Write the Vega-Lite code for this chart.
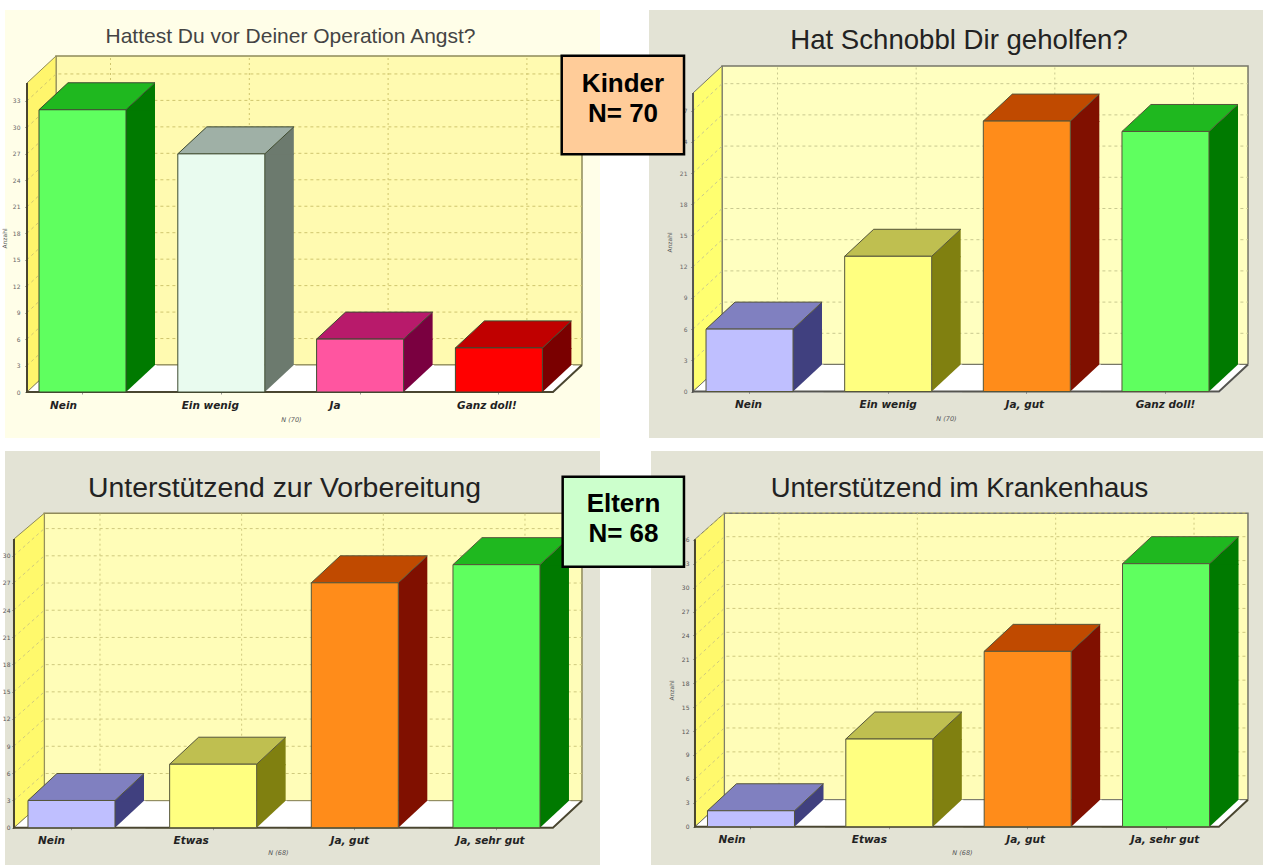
{"$schema":"https://vega.github.io/schema/vega-lite/v6.json","padding":{"left":1,"top":10,"right":0,"bottom":0},"background":"#ffffff","spacing":13,"datasets":{
"a":[{"answer":"Nein","value":32},{"answer":"Ein wenig","value":27},{"answer":"Ja","value":6},{"answer":"Ganz doll!","value":5}],
"b":[{"answer":"Nein","value":6},{"answer":"Ein wenig","value":13},{"answer":"Ja, gut","value":26},{"answer":"Ganz doll!","value":25}],
"c":[{"answer":"Nein","value":3},{"answer":"Etwas","value":7},{"answer":"Ja, gut","value":27},{"answer":"Ja, sehr gut","value":29}],
"d":[{"answer":"Nein","value":2},{"answer":"Etwas","value":11},{"answer":"Ja, gut","value":22},{"answer":"Ja, sehr gut","value":33}]
},
"vconcat":[
{"hconcat":[
{"width":595,"height":428,"view":{"fill":"#FFFEE8","stroke":null},
"title":{"text":"Hattest Du vor Deiner Operation Angst?","font":"Liberation Sans","fontSize":21,"fontWeight":"normal","color":"#444444","anchor":"middle","frame":"group","offset":-37,"dx":-12},
"encoding":{
"x":{"field":"answer","type":"nominal","sort":null,"scale":{"type":"band","domain":["Nein","Ein wenig","Ja","Ganz doll!"],"range":[8.1,563.3],"paddingInner":0,"paddingOuter":0},"axis":{"title":"N (70)","titleFontSize":6.5,"titleFontStyle":"italic","titleFont":"DejaVu Sans","titleFontWeight":"normal","titleColor":"#555555","titleX":286,"titleY":24,"labelAngle":0,"labelFont":"DejaVu Sans","labelFontWeight":"bold","labelFontStyle":"italic","labelFontSize":10.5,"labelColor":"#222222","labelPadding":6,"tickSize":2,"tickColor":"#999999","domain":false,"grid":false,"offset":-46,"labelOffset":{"expr":"{'Nein':-19,'Ein wenig':-11,'Ja':-25,'Ganz doll!':-12}[datum.value]"}}},
"y":{"field":"value","type":"quantitative","scale":{"domain":[0,35],"nice":false,"zero":true,"range":[382,73.3]},"axis":{"title":"Anzahl","titleFontSize":6,"titleFont":"DejaVu Sans","titleFontWeight":"normal","titleColor":"#555555","titleX":-20,"titleY":228,"values":[0,3,6,9,12,15,18,21,24,27,30,33],"labelFont":"DejaVu Sans","labelFontSize":6,"labelColor":"#666666","labelPadding":5,"tickSize":2,"tickColor":"#666666","domain":false,"grid":false,"offset":-22}}
},
"resolve":{"scale":{"color":"independent"}},
"layer":[
{"data":{"values":[{"answer":"Nein","value":0}]},"mark":{"type":"point","size":4,"opacity":1,"filled":true,"fill":"#FFFAB0","stroke":"#8F8A5A","strokeWidth":1.5,"shape":"M-26.5,-336 L499.5,-336 L499.5,-27 L-26.5,-27 Z"}},
{"data":{"values":[{"answer":"Nein","value":0}]},"mark":{"type":"point","size":4,"opacity":1,"filled":true,"fill":"#FFF56C","stroke":"#8F8A5A","strokeWidth":1,"shape":"M-55.5,0 L-55.5,-309 L-26.5,-336 L-26.5,-27 Z"}},
{"data":{"values":[{"answer":"Nein","value":0}]},"mark":{"type":"point","size":4,"opacity":1,"filled":true,"fill":"#FFFFFF","stroke":"#8F8A5A","strokeWidth":1,"shape":"M-55.5,0 L470.5,0 L499.5,-27 L-26.5,-27 Z"}},
{"data":{"values":[{"answer":"Nein","value":3},{"answer":"Nein","value":6},{"answer":"Nein","value":9},{"answer":"Nein","value":12},{"answer":"Nein","value":15},{"answer":"Nein","value":18},{"answer":"Nein","value":21},{"answer":"Nein","value":24},{"answer":"Nein","value":27},{"answer":"Nein","value":30},{"answer":"Nein","value":33}]},"mark":{"type":"point","size":4,"opacity":1,"filled":false,"stroke":"#CFC56E","strokeWidth":1,"strokeDash":[3,3],"shape":"M-55.5,0 L-26.5,-27 L499.5,-27"}},
{"data":{"name":"a"},"encoding":{"y":{"datum":0,"type":"quantitative"}},"mark":{"type":"point","size":4,"opacity":1,"filled":false,"stroke":"#CFC56E","strokeWidth":1,"strokeDash":[2,3],"shape":"M28,-27 L28,-336"}},
{"data":{"name":"a"},"mark":{"type":"bar","width":29,"xOffset":58,"opacity":1},"encoding":{"color":{"field":"answer","type":"nominal","legend":null,"scale":{"domain":["Nein","Ein wenig","Ja","Ganz doll!"],"range":["#007A00","#6C7A6E","#7A0040","#7A0000"]}}}},
{"data":{"name":"a"},"mark":{"type":"point","size":4,"opacity":1,"filled":true,"strokeWidth":0,"shape":"M43.5,1 L43.5,0 L72.5,-27 L72.5,1 Z"},"encoding":{"color":{"field":"answer","type":"nominal","legend":null,"scale":{"domain":["Nein","Ein wenig","Ja","Ganz doll!"],"range":["#007A00","#6C7A6E","#7A0040","#7A0000"]}}}},
{"data":{"name":"a"},"encoding":{"y":{"datum":0,"type":"quantitative"}},"mark":{"type":"point","size":4,"opacity":1,"filled":true,"fill":"#FFFFFF","strokeWidth":0,"shape":"M43.5,1 L74,1 L74,-27 L72.5,-27 L43.5,0 Z"}},
{"data":{"values":[{"answer":"Nein","value":0}]},"mark":{"type":"point","size":4,"opacity":1,"filled":true,"fill":"#FFFEE8","strokeWidth":0,"shape":"M470.5,2 L510,2 L510,-27 L499.5,-27 Z"}},
{"data":{"values":[{"answer":"Nein","value":0}]},"mark":{"type":"point","size":4,"opacity":1,"filled":false,"stroke":"#4A4630","strokeWidth":2,"shape":"M-55.5,-309 L-55.5,0 L470.5,0 L499.5,-27"}},
{"data":{"name":"a"},"mark":{"type":"point","size":4,"opacity":1,"filled":true,"stroke":"#3D4A30","strokeWidth":1,"shape":"M-43.5,0 L43.5,0 L72.5,-27 L-14.5,-27 Z"},"encoding":{"color":{"field":"answer","type":"nominal","legend":null,"scale":{"domain":["Nein","Ein wenig","Ja","Ganz doll!"],"range":["#1FB81F","#9FB0A6","#B81A6B","#C00000"]}}}},
{"data":{"name":"a"},"mark":{"type":"bar","width":87,"opacity":1,"stroke":"#3D4A30","strokeWidth":1},"encoding":{"color":{"field":"answer","type":"nominal","legend":null,"scale":{"domain":["Nein","Ein wenig","Ja","Ganz doll!"],"range":["#5FFF5F","#E9FBEF","#FF55A0","#FF0000"]}}}}
]},
{"width":614,"height":428,"view":{"fill":"#E3E3D5","stroke":null},
"title":{"text":"Hat Schnobbl Dir geholfen?","font":"Liberation Sans","fontSize":27.6,"fontWeight":"normal","color":"#222222","anchor":"middle","frame":"group","offset":-45,"dx":3},
"encoding":{
"x":{"field":"answer","type":"nominal","sort":null,"scale":{"type":"band","domain":["Nein","Ein wenig","Ja, gut","Ganz doll!"],"range":[31.2,585.8],"paddingInner":0,"paddingOuter":0},"axis":{"title":"N (70)","titleFontSize":6.5,"titleFontStyle":"italic","titleFont":"DejaVu Sans","titleFontWeight":"normal","titleColor":"#555555","titleX":297,"titleY":24,"labelAngle":0,"labelFont":"DejaVu Sans","labelFontWeight":"bold","labelFontStyle":"italic","labelFontSize":10.5,"labelColor":"#222222","labelPadding":6,"tickSize":2,"tickColor":"#999999","domain":false,"grid":false,"offset":-46.5,"labelOffset":{"expr":"{'Nein':-1,'Ein wenig':0,'Ja, gut':-2,'Ganz doll!':0}[datum.value]"}}},
"y":{"field":"value","type":"quantitative","scale":{"domain":[0,28.7],"nice":false,"zero":true,"range":[381.5,83]},"axis":{"title":"Anzahl","titleFontSize":6,"titleFont":"DejaVu Sans","titleFontWeight":"normal","titleColor":"#555555","titleX":-21,"titleY":232,"values":[0,3,6,9,12,15,18,21,24,27],"labelFont":"DejaVu Sans","labelFontSize":6,"labelColor":"#666666","labelPadding":4,"tickSize":2,"tickColor":"#666666","domain":false,"grid":false,"offset":-44}}
},
"resolve":{"scale":{"color":"independent"}},
"layer":[
{"data":{"values":[{"answer":"Nein","value":0}]},"mark":{"type":"point","size":4,"opacity":1,"filled":true,"fill":"#FFFFC0","stroke":"#777768","strokeWidth":1.5,"shape":"M-27.5,-325.5 L498.5,-325.5 L498.5,-27 L-27.5,-27 Z"}},
{"data":{"values":[{"answer":"Nein","value":0}]},"mark":{"type":"point","size":4,"opacity":1,"filled":true,"fill":"#FFFF70","stroke":"#777768","strokeWidth":1,"shape":"M-56.5,0 L-56.5,-298.5 L-27.5,-325.5 L-27.5,-27 Z"}},
{"data":{"values":[{"answer":"Nein","value":0}]},"mark":{"type":"point","size":4,"opacity":1,"filled":true,"fill":"#FFFFFF","stroke":"#777768","strokeWidth":1,"shape":"M-56.5,0 L469.5,0 L498.5,-27 L-27.5,-27 Z"}},
{"data":{"values":[{"answer":"Nein","value":3},{"answer":"Nein","value":6},{"answer":"Nein","value":9},{"answer":"Nein","value":12},{"answer":"Nein","value":15},{"answer":"Nein","value":18},{"answer":"Nein","value":21},{"answer":"Nein","value":24},{"answer":"Nein","value":27}]},"mark":{"type":"point","size":4,"opacity":1,"filled":false,"stroke":"#C9C98F","strokeWidth":1,"strokeDash":[3,3],"shape":"M-56.5,0 L-27.5,-27 L498.5,-27"}},
{"data":{"name":"b"},"encoding":{"y":{"datum":0,"type":"quantitative"}},"mark":{"type":"point","size":4,"opacity":1,"filled":false,"stroke":"#C9C98F","strokeWidth":1,"strokeDash":[2,3],"shape":"M28,-27 L28,-325.5"}},
{"data":{"name":"b"},"mark":{"type":"bar","width":29,"xOffset":58,"opacity":1},"encoding":{"color":{"field":"answer","type":"nominal","legend":null,"scale":{"domain":["Nein","Ein wenig","Ja, gut","Ganz doll!"],"range":["#40407F","#808010","#801000","#007A00"]}}}},
{"data":{"name":"b"},"mark":{"type":"point","size":4,"opacity":1,"filled":true,"strokeWidth":0,"shape":"M43.5,1 L43.5,0 L72.5,-27 L72.5,1 Z"},"encoding":{"color":{"field":"answer","type":"nominal","legend":null,"scale":{"domain":["Nein","Ein wenig","Ja, gut","Ganz doll!"],"range":["#40407F","#808010","#801000","#007A00"]}}}},
{"data":{"name":"b"},"encoding":{"y":{"datum":0,"type":"quantitative"}},"mark":{"type":"point","size":4,"opacity":1,"filled":true,"fill":"#FFFFFF","strokeWidth":0,"shape":"M43.5,1 L74,1 L74,-27 L72.5,-27 L43.5,0 Z"}},
{"data":{"values":[{"answer":"Nein","value":0}]},"mark":{"type":"point","size":4,"opacity":1,"filled":true,"fill":"#E3E3D5","strokeWidth":0,"shape":"M469.5,2 L509,2 L509,-27 L498.5,-27 Z"}},
{"data":{"values":[{"answer":"Nein","value":0}]},"mark":{"type":"point","size":4,"opacity":1,"filled":false,"stroke":"#555550","strokeWidth":2,"shape":"M-56.5,-298.5 L-56.5,0 L469.5,0 L498.5,-27"}},
{"data":{"name":"b"},"mark":{"type":"point","size":4,"opacity":1,"filled":true,"stroke":"#55553A","strokeWidth":1,"shape":"M-43.5,0 L43.5,0 L72.5,-27 L-14.5,-27 Z"},"encoding":{"color":{"field":"answer","type":"nominal","legend":null,"scale":{"domain":["Nein","Ein wenig","Ja, gut","Ganz doll!"],"range":["#8080C0","#BFBF50","#C04A00","#1FB81F"]}}}},
{"data":{"name":"b"},"mark":{"type":"bar","width":87,"opacity":1,"stroke":"#55553A","strokeWidth":1},"encoding":{"color":{"field":"answer","type":"nominal","legend":null,"scale":{"domain":["Nein","Ein wenig","Ja, gut","Ganz doll!"],"range":["#BFBFFF","#FFFF80","#FF8C1A","#5FFF5F"]}}}},
{"data":{"values":[{"answer":"Nein","value":0}]},"mark":{"type":"point","size":4,"opacity":1,"filled":true,"fill":"#FFCC99","stroke":"#000000","strokeWidth":2.5,"shape":"M-187.8,-335.8 L-65.5,-335.8 L-65.5,-237.2 L-187.8,-237.2 Z"}},
{"data":{"values":[{"answer":"Nein","value":0,"box":"Kinder"}]},"mark":{"type":"text","text":["Kinder","N= 70"],"font":"Liberation Sans","fontWeight":"bold","fontSize":26,"lineHeight":29.5,"color":"#000000","align":"center","baseline":"middle","dx":-126.5,"dy":-307.5}}
]}
],"spacing":49,"bounds":"flush"},
{"hconcat":[
{"width":595,"height":414,"view":{"fill":"#E3E3D5","stroke":null},
"title":{"text":"Unterstützend zur Vorbereitung","font":"Liberation Sans","fontSize":28.4,"fontWeight":"normal","color":"#222222","anchor":"middle","frame":"group","offset":-52,"dx":-18},
"encoding":{
"x":{"field":"answer","type":"nominal","sort":null,"scale":{"type":"band","domain":["Nein","Etwas","Ja, gut","Ja, sehr gut"],"range":[-4.35,562.3],"paddingInner":0,"paddingOuter":0},"axis":{"title":"N (68)","titleFontSize":6.5,"titleFontStyle":"italic","titleFont":"DejaVu Sans","titleFontWeight":"normal","titleColor":"#555555","titleX":273,"titleY":22,"labelAngle":0,"labelFont":"DejaVu Sans","labelFontWeight":"bold","labelFontStyle":"italic","labelFontSize":10.5,"labelColor":"#222222","labelPadding":6,"tickSize":2,"tickColor":"#999999","domain":false,"grid":false,"offset":-37.3,"labelOffset":{"expr":"{'Nein':-20,'Etwas':-22,'Ja, gut':-5,'Ja, sehr gut':-6}[datum.value]"}}},
"y":{"field":"value","type":"quantitative","scale":{"domain":[0,31.83],"nice":false,"zero":true,"range":[376.7,88]},"axis":{"title":null,"values":[0,3,6,9,12,15,18,21,24,27,30],"labelFont":"DejaVu Sans","labelFontSize":6,"labelColor":"#555555","labelPadding":2,"tickSize":2,"tickColor":"#666666","domain":false,"grid":false,"offset":-9}}
},
"resolve":{"scale":{"color":"independent"}},
"layer":[
{"data":{"values":[{"answer":"Nein","value":0}]},"mark":{"type":"point","size":4,"opacity":1,"filled":true,"fill":"#FFFDB8","stroke":"#8F8A5A","strokeWidth":1.5,"shape":"M-27.2,-314.4 L510.5,-314.4 L510.5,-27 L-27.2,-27 Z"}},
{"data":{"values":[{"answer":"Nein","value":0}]},"mark":{"type":"point","size":4,"opacity":1,"filled":true,"fill":"#FFF96C","stroke":"#8F8A5A","strokeWidth":1,"shape":"M-57.5,0 L-57.5,-288.7 L-27.2,-314.4 L-27.2,-27 Z"}},
{"data":{"values":[{"answer":"Nein","value":0}]},"mark":{"type":"point","size":4,"opacity":1,"filled":true,"fill":"#FFFFFF","stroke":"#8F8A5A","strokeWidth":1,"shape":"M-57.5,0 L481.5,0 L510.5,-27 L-27.2,-27 Z"}},
{"data":{"values":[{"answer":"Nein","value":3},{"answer":"Nein","value":6},{"answer":"Nein","value":9},{"answer":"Nein","value":12},{"answer":"Nein","value":15},{"answer":"Nein","value":18},{"answer":"Nein","value":21},{"answer":"Nein","value":24},{"answer":"Nein","value":27},{"answer":"Nein","value":30}]},"mark":{"type":"point","size":4,"opacity":1,"filled":false,"stroke":"#CFC97E","strokeWidth":1,"strokeDash":[3,3],"shape":"M-57.5,0 L-27.2,-27 L510.5,-27"}},
{"data":{"name":"c"},"encoding":{"y":{"datum":0,"type":"quantitative"}},"mark":{"type":"point","size":4,"opacity":1,"filled":false,"stroke":"#CFC97E","strokeWidth":1,"strokeDash":[2,3],"shape":"M28.5,-27 L28.5,-314.4"}},
{"data":{"name":"c"},"mark":{"type":"bar","width":29,"xOffset":58,"opacity":1},"encoding":{"color":{"field":"answer","type":"nominal","legend":null,"scale":{"domain":["Nein","Etwas","Ja, gut","Ja, sehr gut"],"range":["#40407F","#808010","#801000","#007A00"]}}}},
{"data":{"name":"c"},"mark":{"type":"point","size":4,"opacity":1,"filled":true,"strokeWidth":0,"shape":"M43.5,1 L43.5,0 L72.5,-27 L72.5,1 Z"},"encoding":{"color":{"field":"answer","type":"nominal","legend":null,"scale":{"domain":["Nein","Etwas","Ja, gut","Ja, sehr gut"],"range":["#40407F","#808010","#801000","#007A00"]}}}},
{"data":{"name":"c"},"encoding":{"y":{"datum":0,"type":"quantitative"}},"mark":{"type":"point","size":4,"opacity":1,"filled":true,"fill":"#FFFFFF","strokeWidth":0,"shape":"M43.5,1 L74,1 L74,-27 L72.5,-27 L43.5,0 Z"}},
{"data":{"values":[{"answer":"Nein","value":0}]},"mark":{"type":"point","size":4,"opacity":1,"filled":true,"fill":"#E3E3D5","strokeWidth":0,"shape":"M481.5,2 L521,2 L521,-27 L510.5,-27 Z"}},
{"data":{"values":[{"answer":"Nein","value":0}]},"mark":{"type":"point","size":4,"opacity":1,"filled":false,"stroke":"#4A4630","strokeWidth":2,"shape":"M-57.5,-288.7 L-57.5,0 L481.5,0 L510.5,-27"}},
{"data":{"name":"c"},"mark":{"type":"point","size":4,"opacity":1,"filled":true,"stroke":"#55553A","strokeWidth":1,"shape":"M-43.5,0 L43.5,0 L72.5,-27 L-14.5,-27 Z"},"encoding":{"color":{"field":"answer","type":"nominal","legend":null,"scale":{"domain":["Nein","Etwas","Ja, gut","Ja, sehr gut"],"range":["#8080C0","#BFBF50","#C04A00","#1FB81F"]}}}},
{"data":{"name":"c"},"mark":{"type":"bar","width":87,"opacity":1,"stroke":"#55553A","strokeWidth":1},"encoding":{"color":{"field":"answer","type":"nominal","legend":null,"scale":{"domain":["Nein","Etwas","Ja, gut","Ja, sehr gut"],"range":["#BFBFFF","#FFFF80","#FF8C1A","#5FFF5F"]}}}}
]},
{"width":612,"height":414,"view":{"fill":"#E3E3D5","stroke":null},
"title":{"text":"Unterstützend im Krankenhaus","font":"Liberation Sans","fontSize":27.5,"fontWeight":"normal","color":"#222222","anchor":"middle","frame":"group","offset":-51,"dx":2.5},
"encoding":{
"x":{"field":"answer","type":"nominal","sort":null,"scale":{"type":"band","domain":["Nein","Etwas","Ja, gut","Ja, sehr gut"],"range":[30.8,584.2],"paddingInner":0,"paddingOuter":0},"axis":{"title":"N (68)","titleFontSize":6.5,"titleFontStyle":"italic","titleFont":"DejaVu Sans","titleFontWeight":"normal","titleColor":"#555555","titleX":311,"titleY":23,"labelAngle":0,"labelFont":"DejaVu Sans","labelFontWeight":"bold","labelFontStyle":"italic","labelFontSize":10.5,"labelColor":"#222222","labelPadding":6,"tickSize":2,"tickColor":"#999999","domain":false,"grid":false,"offset":-38.3,"labelOffset":{"expr":"{'Nein':-19,'Etwas':-20,'Ja, gut':-2,'Ja, sehr gut':-1}[datum.value]"}}},
"y":{"field":"value","type":"quantitative","scale":{"domain":[0,36.06],"nice":false,"zero":true,"range":[375.7,88.3]},"axis":{"title":"Anzahl","titleFontSize":6,"titleFont":"DejaVu Sans","titleFontWeight":"normal","titleColor":"#555555","titleX":-21,"titleY":239,"values":[0,3,6,9,12,15,18,21,24,27,30,33,36],"labelFont":"DejaVu Sans","labelFontSize":6,"labelColor":"#555555","labelPadding":4,"tickSize":2,"tickColor":"#666666","domain":false,"grid":false,"offset":-44}}
},
"resolve":{"scale":{"color":"independent"}},
"layer":[
{"data":{"values":[{"answer":"Nein","value":0}]},"mark":{"type":"point","size":4,"opacity":1,"filled":true,"fill":"#FFFDB8","stroke":"#777768","strokeWidth":1.5,"shape":"M-26.7,-313.4 L497,-313.4 L497,-27 L-26.7,-27 Z"}},
{"data":{"values":[{"answer":"Nein","value":0}]},"mark":{"type":"point","size":4,"opacity":1,"filled":true,"fill":"#FFF96C","stroke":"#777768","strokeWidth":1,"shape":"M-56,0 L-56,-287.4 L-26.7,-313.4 L-26.7,-27 Z"}},
{"data":{"values":[{"answer":"Nein","value":0}]},"mark":{"type":"point","size":4,"opacity":1,"filled":true,"fill":"#FFFFFF","stroke":"#777768","strokeWidth":1,"shape":"M-56,0 L468,0 L497,-27 L-26.7,-27 Z"}},
{"data":{"values":[{"answer":"Nein","value":3},{"answer":"Nein","value":6},{"answer":"Nein","value":9},{"answer":"Nein","value":12},{"answer":"Nein","value":15},{"answer":"Nein","value":18},{"answer":"Nein","value":21},{"answer":"Nein","value":24},{"answer":"Nein","value":27},{"answer":"Nein","value":30},{"answer":"Nein","value":33},{"answer":"Nein","value":36}]},"mark":{"type":"point","size":4,"opacity":1,"filled":false,"stroke":"#CFC97E","strokeWidth":1,"strokeDash":[3,3],"shape":"M-56,0 L-26.7,-27 L497,-27"}},
{"data":{"name":"d"},"encoding":{"y":{"datum":0,"type":"quantitative"}},"mark":{"type":"point","size":4,"opacity":1,"filled":false,"stroke":"#CFC97E","strokeWidth":1,"strokeDash":[2,3],"shape":"M28,-27 L28,-313.4"}},
{"data":{"name":"d"},"mark":{"type":"bar","width":29,"xOffset":58,"opacity":1},"encoding":{"color":{"field":"answer","type":"nominal","legend":null,"scale":{"domain":["Nein","Etwas","Ja, gut","Ja, sehr gut"],"range":["#40407F","#808010","#801000","#007A00"]}}}},
{"data":{"name":"d"},"mark":{"type":"point","size":4,"opacity":1,"filled":true,"strokeWidth":0,"shape":"M43.5,1 L43.5,0 L72.5,-27 L72.5,1 Z"},"encoding":{"color":{"field":"answer","type":"nominal","legend":null,"scale":{"domain":["Nein","Etwas","Ja, gut","Ja, sehr gut"],"range":["#40407F","#808010","#801000","#007A00"]}}}},
{"data":{"name":"d"},"encoding":{"y":{"datum":0,"type":"quantitative"}},"mark":{"type":"point","size":4,"opacity":1,"filled":true,"fill":"#FFFFFF","strokeWidth":0,"shape":"M43.5,1 L74,1 L74,-27 L72.5,-27 L43.5,0 Z"}},
{"data":{"values":[{"answer":"Nein","value":0}]},"mark":{"type":"point","size":4,"opacity":1,"filled":true,"fill":"#E3E3D5","strokeWidth":0,"shape":"M468,2 L507,2 L507,-27 L497,-27 Z"}},
{"data":{"values":[{"answer":"Nein","value":0}]},"mark":{"type":"point","size":4,"opacity":1,"filled":false,"stroke":"#4A4630","strokeWidth":2,"shape":"M-56,-287.4 L-56,0 L468,0 L497,-27"}},
{"data":{"name":"d"},"mark":{"type":"point","size":4,"opacity":1,"filled":true,"stroke":"#55553A","strokeWidth":1,"shape":"M-43.5,0 L43.5,0 L72.5,-27 L-14.5,-27 Z"},"encoding":{"color":{"field":"answer","type":"nominal","legend":null,"scale":{"domain":["Nein","Etwas","Ja, gut","Ja, sehr gut"],"range":["#8080C0","#BFBF50","#C04A00","#1FB81F"]}}}},
{"data":{"name":"d"},"mark":{"type":"bar","width":87,"opacity":1,"stroke":"#55553A","strokeWidth":1},"encoding":{"color":{"field":"answer","type":"nominal","legend":null,"scale":{"domain":["Nein","Etwas","Ja, gut","Ja, sehr gut"],"range":["#BFBFFF","#FFFF80","#FF8C1A","#5FFF5F"]}}}},
{"data":{"values":[{"answer":"Nein","value":0}]},"mark":{"type":"point","size":4,"opacity":1,"filled":true,"fill":"#CCFFCC","stroke":"#000000","strokeWidth":2.5,"shape":"M-188.3,-350 L-67,-350 L-67,-260 L-188.3,-260 Z"}},
{"data":{"values":[{"answer":"Nein","value":0,"box":"Eltern"}]},"mark":{"type":"text","text":["Eltern","N= 68"],"font":"Liberation Sans","fontWeight":"bold","fontSize":26,"lineHeight":29.5,"color":"#000000","align":"center","baseline":"middle","dx":-127.5,"dy":-322.7}}
]}
],"spacing":51,"bounds":"flush"}
]}
